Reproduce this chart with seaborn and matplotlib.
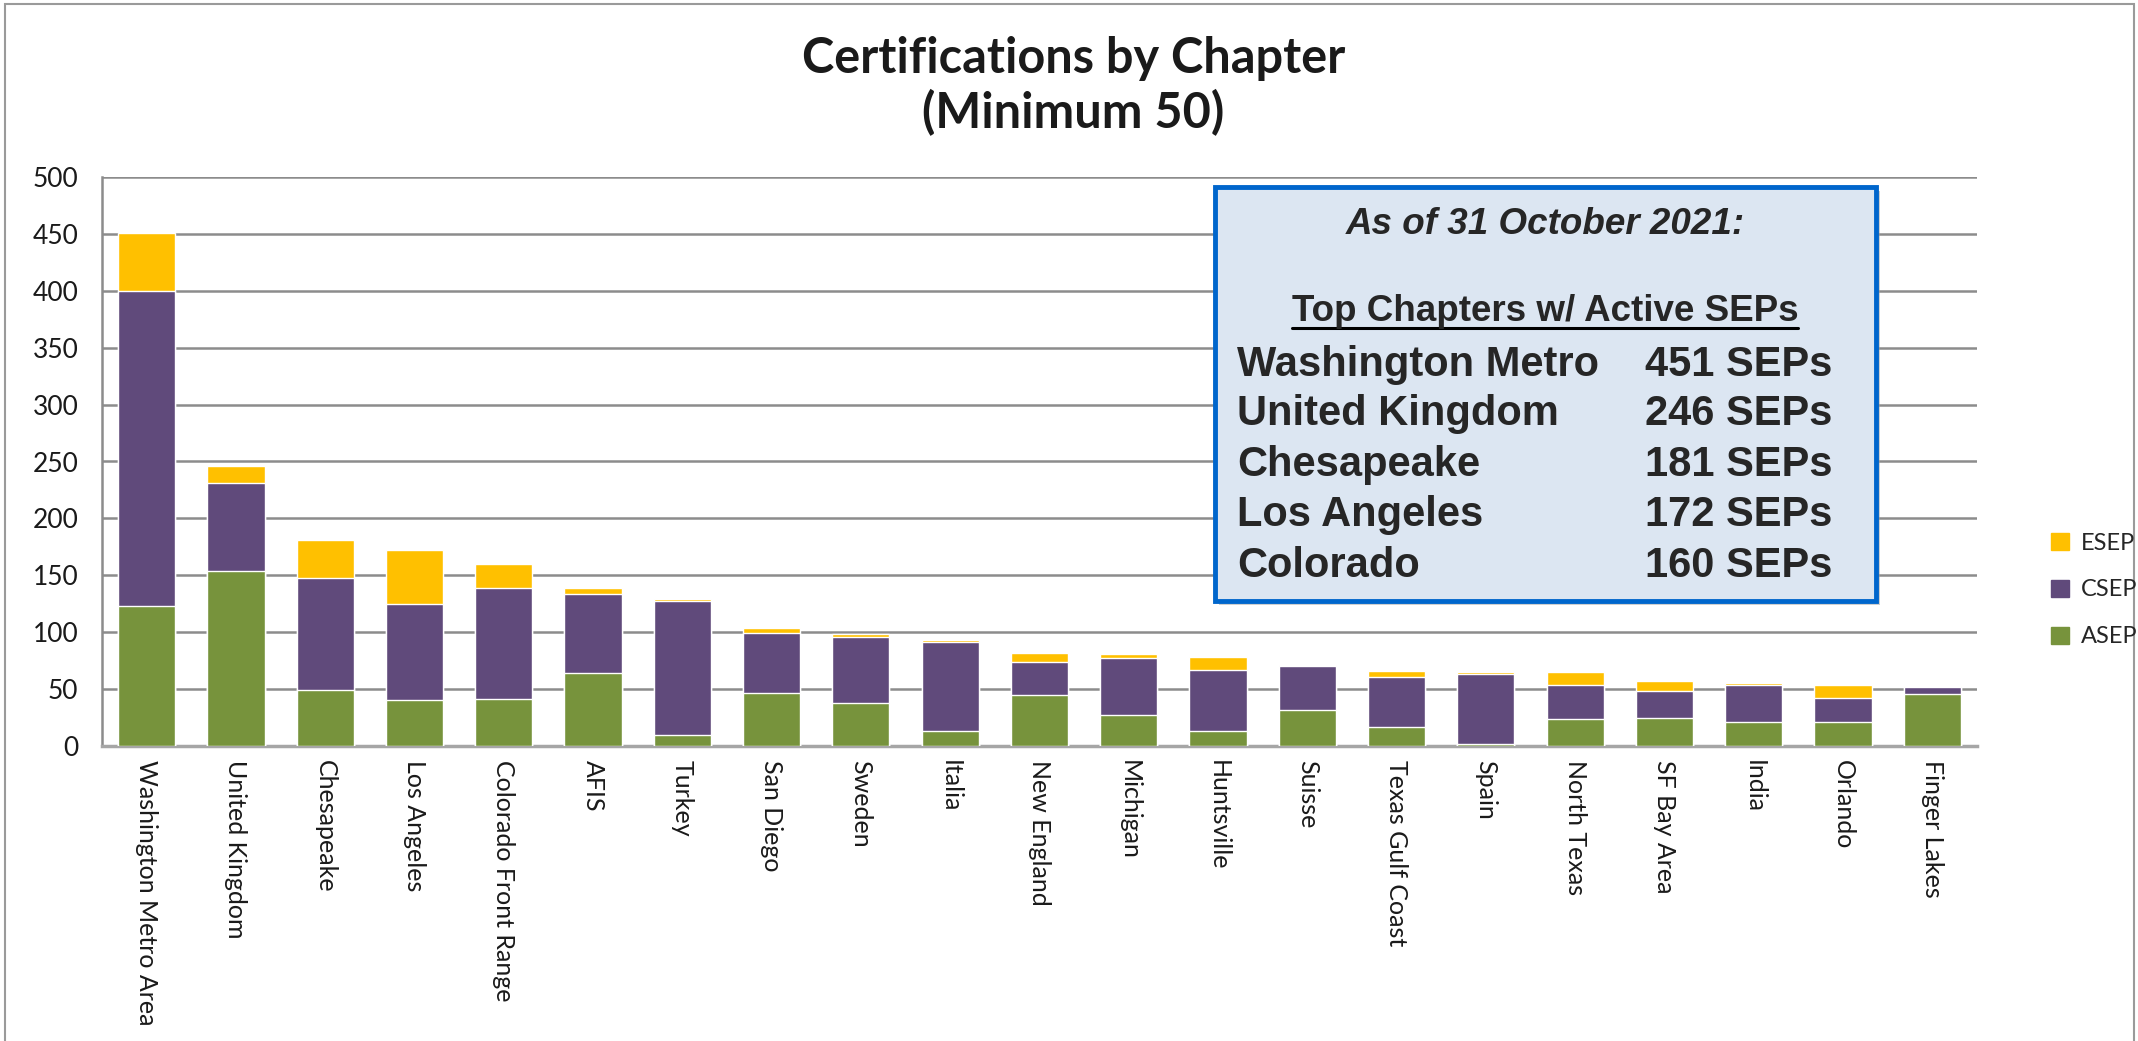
import numpy as np
import pandas as pd
import matplotlib
matplotlib.use("Agg")
import matplotlib.pyplot as plt
import seaborn as sns
from matplotlib.lines import Line2D
from matplotlib.patches import Rectangle, Patch

# chapter data
chapters = ["Washington Metro Area", "United Kingdom", "Chesapeake", "Los Angeles",
            "Colorado Front Range", "AFIS", "Turkey", "San Diego", "Sweden", "Italia",
            "New England", "Michigan", "Huntsville", "Suisse", "Texas Gulf Coast",
            "Spain", "North Texas", "SF Bay Area", "India", "Orlando", "Finger Lakes"]
asep = [123, 154, 49, 40, 41, 64, 10, 47, 38, 13, 45, 27, 13, 32, 17, 2, 24, 25, 21, 21, 46]
csep = [277, 77, 99, 85, 98, 70, 117, 52, 58, 78, 29, 50, 54, 38, 44, 61, 30, 23, 33, 21, 6]
esep = [51, 15, 33, 47, 21, 5, 2, 5, 2, 2, 8, 4, 11, 1, 5, 2, 11, 9, 1, 12, 1]

# callout box contents
box_names = ["Washington Metro", "United Kingdom", "Chesapeake", "Los Angeles", "Colorado"]
box_counts = [451, 246, 181, 172, 160]

GREEN = "#77933C"
PURPLE = "#604A7B"
GOLD = "#FFC000"
GRID = "#8C8C8C"

sns.set_theme(style="white")
plt.rcParams["font.family"] = ["Lato", "DejaVu Sans"]

df = pd.DataFrame({"chapter": chapters, "ASEP": asep, "CSEP": csep, "ESEP": esep})
df["a_c"] = df["ASEP"] + df["CSEP"]
df["total"] = df["a_c"] + df["ESEP"]

W, H = 2138, 1041
fig = plt.figure(figsize=(W / 100, H / 100), dpi=100)
ax = fig.add_axes([102 / W, 1 - 746 / H, (1977 - 102) / W, (746 - 177) / H])

# stacked bars: draw cumulative totals back to front
for col, colr in [("total", GOLD), ("a_c", PURPLE), ("ASEP", GREEN)]:
    sns.barplot(data=df, x="chapter", y=col, color=colr, width=0.64, ax=ax,
                saturation=1, errorbar=None, zorder=3)

ax.set_xlim(-0.5, len(chapters) - 0.5)
ax.set_ylim(0, 500)
ax.set_yticks(np.arange(0, 501, 50))
ax.yaxis.grid(True, color=GRID, lw=1.8)
ax.xaxis.grid(False)
ax.set_axisbelow(True)
for s in ["top", "right"]:
    ax.spines[s].set_visible(False)
ax.spines["left"].set_color(GRID)
ax.spines["left"].set_linewidth(1.8)
ax.spines["bottom"].set_color("#A6A6A6")
ax.spines["bottom"].set_linewidth(2.5)
ax.set_xlabel("")
ax.set_ylabel("")
ax.tick_params(axis="y", length=0, pad=17, labelsize=19, labelcolor="#1a1a1a")
ax.tick_params(axis="x", length=0, pad=10, labelsize=18, labelcolor="#1a1a1a")
ax.set_xticks(range(len(chapters)))
ax.set_xticklabels(chapters, rotation=-90, ha="center", va="top")

fig.text(0.502, 1 - 86 / H, "Certifications by Chapter\n(Minimum 50)", ha="center",
         va="center", fontsize=35, fontweight="bold", linespacing=1.22, color="#1a1a1a")

handles = [Patch(color=GOLD, label="ESEP"), Patch(color=PURPLE, label="CSEP"),
           Patch(color=GREEN, label="ASEP")]
fig.legend(handles=handles, loc="center left", bbox_to_anchor=(2030 / W, 1 - 590 / H),
           frameon=False, fontsize=17, handlelength=0.75, handleheight=0.75,
           labelspacing=1.1, handletextpad=0.5)

# callout box
bx0, by0, bx1, by1 = 1215, 187, 1876, 601
fig.patches.append(Rectangle((bx0 / W + 0.002, 1 - by1 / H - 0.004), (bx1 - bx0) / W,
                             (by1 - by0) / H, transform=fig.transFigure,
                             fc="#A0A0A0", ec="none", alpha=0.5, zorder=4))
fig.patches.append(Rectangle((bx0 / W, 1 - by1 / H), (bx1 - bx0) / W, (by1 - by0) / H,
                             transform=fig.transFigure, fc="#DCE6F2", ec="#0066CC",
                             lw=3.5, zorder=5))

box_font = ["Liberation Sans", "DejaVu Sans"]
fig.text(1545 / W, 1 - 224 / H, "As of 31 October 2021:", ha="center", va="center",
         fontsize=26.5, fontweight="bold", fontstyle="italic", family=box_font, zorder=6)
top_txt = fig.text(1545 / W, 1 - 312 / H, "Top Chapters w/ Active SEPs", ha="center",
                   va="center", fontsize=26.5, fontweight="bold", family=box_font, zorder=6)
row_y = [365, 414, 465, 515, 566]
for name, cnt, y in zip(box_names, box_counts, row_y):
    fig.text(1237 / W, 1 - y / H, name, ha="left", va="center", fontsize=30,
             fontweight="bold", family=box_font, zorder=6)
    fig.text(1645 / W, 1 - y / H, f"{cnt} SEPs", ha="left", va="center", fontsize=30,
             fontweight="bold", family=box_font, zorder=6)

# underline the sub-heading
fig.canvas.draw()
bb = top_txt.get_window_extent().transformed(fig.transFigure.inverted())
fig.lines.append(Line2D([bb.x0, bb.x1], [bb.y0 + 0.001, bb.y0 + 0.001],
                        transform=fig.transFigure, color="black", lw=2.2, zorder=6))

# chart frame
fig.patches.append(Rectangle((5 / W, -0.05), (W - 9) / W, 1.05 - 4 / H,
                             transform=fig.transFigure, fill=False, ec="#9A9A9A", lw=1.5))

fig.savefig("out.png", dpi=100)
